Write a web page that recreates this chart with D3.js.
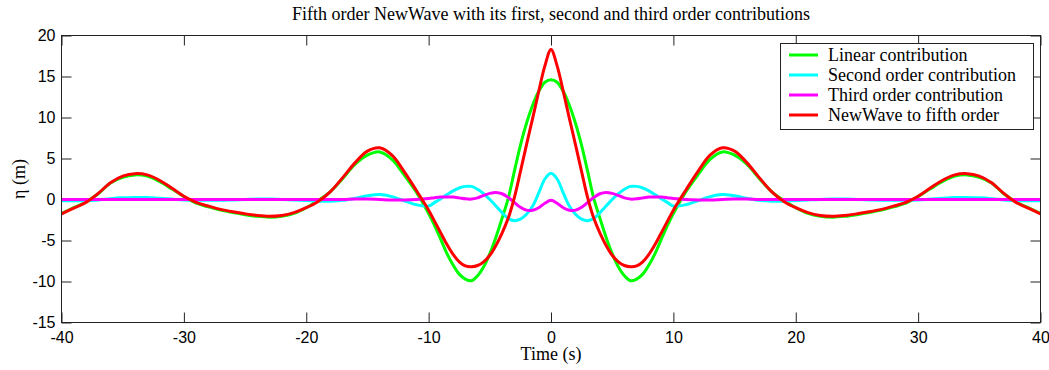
<!DOCTYPE html>
<html>
<head>
<meta charset="utf-8">
<script src="https://cdn.jsdelivr.net/npm/d3@7"></script>
<style>
  html, body { margin: 0; padding: 0; background: #fff; }
  svg { display: block; }
</style>
</head>
<body>
<svg id="chart" width="1049" height="370"></svg>
<script>
// ---- data ----
const times = [
  -40,-39,-38,-37,-36,-35,-34,-33,-32,-31,-30,-29,-28,-27,-26,-25,-24,-23,-22,-21,-20,-19,-18,-17,-16,-15,-14,-13,-12,-11,
  -10,-9.5,-9,-8.5,-8,-7.5,-7,-6.5,-6,-5.5,-5,-4.5,-4,-3.5,-3,-2.5,-2,-1.5,-1,-0.5,
  0,
  0.5,1,1.5,2,2.5,3,3.5,4,4.5,5,5.5,6,6.5,7,7.5,8,8.5,9,9.5,10,
  11,12,13,14,15,16,17,18,19,20,21,22,23,24,25,26,27,28,29,30,31,32,33,34,35,36,37,38,39,40
];
const linearContribution = [
  -1.7,-1.0,-0.3,0.7,2.0,2.7,3.0,2.85,2.2,1.3,0.35,-0.45,-0.9,-1.3,-1.6,-1.85,-2.05,-2.15,-2.05,-1.7,-1.0,-0.1,1.0,2.6,4.3,5.4,5.8,4.9,3.0,0.9,
  -1.7,-3.2,-4.9,-6.6,-8.0,-9.1,-9.7,-9.9,-9.3,-8.2,-6.6,-4.6,-2.3,0.1,3.4,6.6,9.3,11.5,13.2,14.3,
  14.6,
  14.3,13.2,11.5,9.3,6.6,3.4,0.1,-2.3,-4.6,-6.6,-8.2,-9.3,-9.9,-9.7,-9.1,-8.0,-6.6,-4.9,-3.2,-1.7,
  0.9,3.0,4.9,5.8,5.4,4.3,2.6,1.0,-0.1,-1.0,-1.7,-2.05,-2.15,-2.05,-1.85,-1.6,-1.3,-0.9,-0.45,0.35,1.3,2.2,2.85,3.0,2.7,2.0,0.7,-0.3,-1.0,-1.7
];
const secondOrder = [
  -0.15,-0.15,-0.15,-0.05,0.1,0.2,0.25,0.25,0.15,0.05,-0.05,-0.1,-0.1,-0.1,-0.05,0.0,0.05,0.05,0.0,-0.05,-0.12,-0.2,-0.2,-0.1,0.15,0.45,0.6,0.35,-0.15,-0.65,
  -0.8,-0.35,0.1,0.6,1.05,1.4,1.6,1.6,1.25,0.7,0.0,-0.8,-1.6,-2.3,-2.6,-2.4,-1.8,-0.8,0.8,2.5,
  3.2,
  2.5,0.8,-0.8,-1.8,-2.4,-2.6,-2.3,-1.6,-0.8,0.0,0.7,1.25,1.6,1.6,1.4,1.05,0.6,0.1,-0.35,-0.8,
  -0.65,-0.15,0.35,0.6,0.45,0.15,-0.1,-0.2,-0.2,-0.12,-0.05,0.0,0.05,0.05,0.0,-0.05,-0.1,-0.1,-0.1,-0.05,0.05,0.15,0.25,0.25,0.2,0.1,-0.05,-0.15,-0.15,-0.15
];
const thirdOrder = [
  0,0,0,0,0,0,0,0,0,0,0,0,0,0,0,0,0,0,0,0,0,0,0,0,0.05,0.05,0.0,-0.05,-0.05,0.0,
  0.12,0.22,0.3,0.32,0.3,0.2,0.08,0.05,0.2,0.5,0.75,0.86,0.7,0.25,-0.35,-0.95,-1.3,-1.3,-1.0,-0.45,
  -0.1,
  -0.45,-1.0,-1.3,-1.3,-0.95,-0.35,0.25,0.7,0.86,0.75,0.5,0.2,0.05,0.08,0.2,0.3,0.32,0.3,0.22,0.12,
  0.0,-0.05,-0.05,0.0,0.05,0.05,0,0,0,0,0,0,0,0,0,0,0,0,0,0,0,0,0,0,0,0,0,0,0,0
];
const fifthOrder = [
  -1.75,-1.05,-0.35,0.75,2.05,2.85,3.15,3.0,2.35,1.4,0.4,-0.35,-0.8,-1.2,-1.5,-1.75,-1.95,-2.05,-1.95,-1.6,-1.0,-0.2,1.0,2.7,4.5,5.9,6.3,5.4,3.4,1.1,
  -1.3,-2.7,-4.1,-5.5,-6.7,-7.6,-8.1,-8.2,-8.05,-7.6,-6.8,-5.6,-4.1,-2.3,0.2,3.4,6.7,9.9,13.2,16.3,
  18.3,
  16.3,13.2,9.9,6.7,3.4,0.2,-2.3,-4.1,-5.6,-6.8,-7.6,-8.05,-8.2,-8.1,-7.6,-6.7,-5.5,-4.1,-2.7,-1.3,
  1.1,3.4,5.4,6.3,5.9,4.5,2.7,1.0,-0.2,-1.0,-1.6,-1.95,-2.05,-1.95,-1.75,-1.5,-1.2,-0.8,-0.35,0.4,1.4,2.35,3.0,3.15,2.85,2.05,0.75,-0.35,-1.05,-1.75
];
const seriesNames = ["Linear contribution", "Second order contribution", "Third order contribution", "NewWave to fifth order"];
const seriesColors = ["#00ff00", "#00ffff", "#ff00ff", "#ff0000"];
const xTicks = [-40, -30, -20, -10, 0, 10, 20, 30, 40];
const yTicks = [-15, -10, -5, 0, 5, 10, 15, 20];
const titleText = "Fifth order NewWave with its first, second and third order contributions";
const xLabel = "Time (s)";
const yLabel = "η (m)";

// ---- layout ----
const svg = d3.select("#chart");
const L = 61.5, R = 1040.5, T = 35.5, B = 322.5;
const x = d3.scaleLinear().domain([-40, 40]).range([L, R]);
const y = d3.scaleLinear().domain([-15, 20]).range([B, T]);
const serif = "'Liberation Serif', 'Times New Roman', serif";
const sans = "'Liberation Sans', Arial, sans-serif";
const fmt = d => String(d);

svg.append("defs").append("clipPath").attr("id", "clip")
  .append("rect").attr("x", L).attr("y", T).attr("width", R - L).attr("height", B - T);

// axes with inward ticks (box style)
const tickLen = 10;
const axB = svg.append("g").attr("transform", `translate(0,${B})`)
  .call(d3.axisBottom(x).tickValues(xTicks).tickSize(-tickLen).tickPadding(9).tickFormat(fmt));
const axT = svg.append("g").attr("transform", `translate(0,${T})`)
  .call(d3.axisTop(x).tickValues(xTicks).tickSize(-tickLen).tickFormat(""));
const axL = svg.append("g").attr("transform", `translate(${L},0)`)
  .call(d3.axisLeft(y).tickValues(yTicks).tickSize(-tickLen).tickPadding(6).tickFormat(fmt));
const axR = svg.append("g").attr("transform", `translate(${R},0)`)
  .call(d3.axisRight(y).tickValues(yTicks).tickSize(-tickLen).tickFormat(""));
[axB, axT, axL, axR].forEach(g => {
  g.select(".domain").remove();
  g.selectAll(".tick line").attr("stroke", "#222");
  g.selectAll("text").attr("font-family", sans).attr("font-size", 16).attr("fill", "#000");
});
axB.selectAll("text").attr("dy", "0.71em");

// series lines
const seriesData = [linearContribution, secondOrder, thirdOrder, fifthOrder];
const line = d3.line()
  .x((d, i) => x(times[i]))
  .y(d => y(d))
  .curve(d3.curveCatmullRom.alpha(0.5));
const lines = svg.append("g").attr("clip-path", "url(#clip)");
seriesData.forEach((vals, k) => {
  lines.append("path").datum(vals)
    .attr("fill", "none")
    .attr("stroke", seriesColors[k])
    .attr("stroke-width", 3)
    .attr("stroke-linejoin", "round")
    .attr("d", line);
});

// box
svg.append("rect").attr("x", L).attr("y", T).attr("width", R - L).attr("height", B - T)
  .attr("fill", "none").attr("stroke", "#222").attr("stroke-width", 1);

// title & labels
svg.append("text").attr("x", (L + R) / 2).attr("y", 20).attr("text-anchor", "middle")
  .attr("font-family", serif).attr("font-size", 18).text(titleText);
svg.append("text").attr("x", (L + R) / 2).attr("y", 360).attr("text-anchor", "middle")
  .attr("font-family", serif).attr("font-size", 18).text(xLabel);
svg.append("text").attr("transform", `translate(25,${(T + B) / 2}) rotate(-90)`).attr("text-anchor", "middle")
  .attr("font-family", serif).attr("font-size", 18).text(yLabel);

// legend
const lg = svg.append("g");
const lgX = 780.5, lgY = 43.5, lgW = 253, lgH = 86;
lg.append("rect").attr("x", lgX).attr("y", lgY).attr("width", lgW).attr("height", lgH)
  .attr("fill", "#fff").attr("stroke", "#222").attr("stroke-width", 1);
seriesNames.forEach((name, k) => {
  const cy = 55 + k * 20;
  lg.append("line").attr("x1", 789).attr("x2", 818).attr("y1", cy).attr("y2", cy)
    .attr("stroke", seriesColors[k]).attr("stroke-width", 3);
  lg.append("text").attr("x", 828).attr("y", cy + 6)
    .attr("font-family", serif).attr("font-size", 18).text(name);
});
</script>
</body>
</html>
